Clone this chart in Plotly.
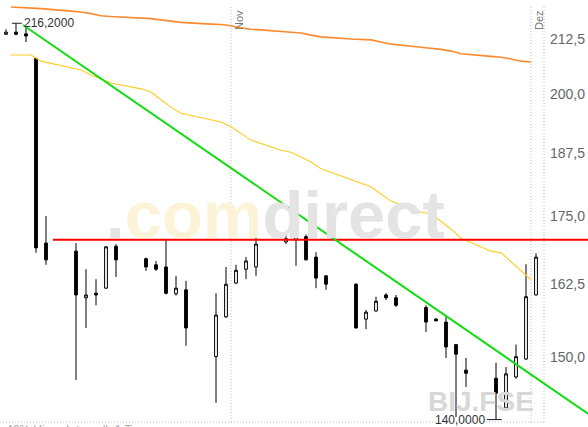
import math
import pandas as pd
import plotly.graph_objects as go

# ---------------- data ----------------
dates = ["2023-10-09", "2023-10-10", "2023-10-11", "2023-10-12", "2023-10-13",
         "2023-10-16", "2023-10-17", "2023-10-18", "2023-10-19", "2023-10-20",
         "2023-10-23", "2023-10-24", "2023-10-25", "2023-10-26", "2023-10-27",
         "2023-10-30", "2023-10-31", "2023-11-01", "2023-11-02", "2023-11-03",
         "2023-11-06", "2023-11-07", "2023-11-08", "2023-11-09", "2023-11-10",
         "2023-11-13", "2023-11-14", "2023-11-15", "2023-11-16", "2023-11-17",
         "2023-11-20", "2023-11-21", "2023-11-22", "2023-11-23", "2023-11-24",
         "2023-11-27", "2023-11-28", "2023-11-29", "2023-11-30", "2023-12-01"]
opens = [213.6, 214.1, 213.7, 208.0, 169.9,
         168.4, 160.0, 160.8, 161.7, 169.3,
         167.0, 165.9, 165.5, 160.7, 161.4,
         150.0, 156.7, 162.6, 165.1, 165.5,
         170.1, 170.5, 171.1, 167.3, 163.9,
         162.4, 156.3, 157.7, 160.5, 160.0,
         158.3, 156.3, 155.8, 152.0, 147.8,
         146.5, 141.8, 146.7, 149.6, 160.5]
highs = [214.8, 216.2, 215.3, 208.2, 175.0,
         169.9, 165.1, 163.3, 169.3, 169.7,
         167.2, 166.6, 170.5, 163.9, 163.0,
         160.8, 165.5, 165.9, 167.3, 172.9,
         172.0, 172.4, 171.5, 168.2, 164.0,
         162.6, 157.9, 160.2, 160.8, 160.5,
         158.7, 156.5, 156.7, 152.1, 149.8,
         149.0, 148.3, 152.0, 166.0, 168.0]
lows = [213.5, 213.4, 211.8, 168.1, 165.9,
        146.2, 154.8, 158.7, 161.6, 163.7,
        164.8, 164.8, 160.6, 160.4, 151.8,
        142.6, 156.5, 162.5, 163.3, 163.9,
        169.7, 165.7, 166.7, 161.7, 161.4,
        154.7, 154.6, 157.6, 159.6, 158.4,
        154.1, 156.0, 149.8, 140.4, 145.1,
        140.0, 141.7, 146.4, 149.5, 160.4]
closes = [214.1, 213.6, 213.2, 169.0, 166.8,
          160.5, 160.5, 160.5, 169.2, 166.8,
          165.5, 165.1, 160.8, 161.7, 154.8,
          157.0, 162.4, 164.9, 166.6, 169.7,
          170.7, 171.1, 166.8, 163.5, 162.4,
          154.8, 157.5, 159.4, 160.0, 158.7,
          155.8, 156.0, 151.6, 150.4, 147.3,
          144.1, 147.2, 150.0, 160.2, 167.3]

ma_dates = dates[1:]
ma_short = [208.8, 208.8, 208.8, 207.4, 205.9, 205.4, 204.3, 203.4, 202.5, 201.2,
            200.5, 198.8, 197.2, 195.9, 194.4, 194.0, 193.0, 191.5, 190.2, 188.1,
            187.7, 186.7, 185.7, 184.3, 182.1, 181.5, 180.7, 179.3, 177.9, 175.8,
            175.4, 174.0, 172.5, 170.8, 168.4, 168.1, 166.4, 164.8, 163.2]
ma_long = [220.1, 220.0, 219.9, 219.7, 219.1, 218.9, 218.5, 218.0, 217.8, 217.5,
           217.3, 217.0, 216.7, 216.4, 216.0, 215.9, 215.6, 215.1, 214.8, 214.3,
           214.1, 213.9, 213.4, 213.0, 212.5, 212.4, 212.3, 211.8, 211.3, 210.6,
           210.4, 210.1, 209.7, 209.1, 208.5, 208.3, 207.9, 207.4, 207.2]

trend_x = ["2023-10-11 04:48", "2023-12-06 16:48"]
trend_y = [215.8, 140.9]
resist_x = ["2023-10-14 04:48", "2023-12-06 16:48"]
resist_y = [170.5, 170.5]

hi_date, hi_val = "2023-10-10", 216.2
lo_date, lo_val = "2023-11-27", 140.0

tick_vals = [150.0, 162.5, 175.0, 187.5, 200.0, 212.5]
month_ticks = ["2023-11-01", "2023-12-01"]
month_labels = ["Nov", "Dez"]

# ---------------- figure ----------------
W, H = 588, 427
candle_x = [pd.Timestamp(d) + pd.Timedelta(hours=12) for d in dates]

fig = go.Figure()

fig.add_trace(go.Candlestick(
    x=candle_x, open=opens, high=highs, low=lows, close=closes,
    increasing=dict(fillcolor="white", line=dict(color="black", width=1)),
    decreasing=dict(fillcolor="black", line=dict(color="black", width=1)),
    whiskerwidth=0, hoverinfo="skip", showlegend=False))

fig.add_trace(go.Scatter(x=ma_dates, y=ma_long, mode="lines",
                         line=dict(color="#fb8a2e", width=1.6), hoverinfo="skip"))
fig.add_trace(go.Scatter(x=ma_dates, y=ma_short, mode="lines",
                         line=dict(color="#ffcc22", width=1.1), hoverinfo="skip"))
fig.add_trace(go.Scatter(x=resist_x, y=resist_y, mode="lines",
                         line=dict(color="#ff0000", width=2), hoverinfo="skip"))
fig.add_trace(go.Scatter(x=trend_x, y=trend_y, mode="lines",
                         line=dict(color="#11dd11", width=2), hoverinfo="skip"))

# high / low markers
hi_t = pd.Timestamp(hi_date) + pd.Timedelta(hours=12)
lo_t = pd.Timestamp(lo_date) + pd.Timedelta(hours=12)
fig.add_trace(go.Scatter(x=[hi_t - pd.Timedelta(hours=10), hi_t + pd.Timedelta(hours=14)],
                         y=[hi_val, hi_val], mode="lines",
                         line=dict(color="#222", width=1), hoverinfo="skip"))
fig.add_trace(go.Scatter(x=[lo_t - pd.Timedelta(hours=22), lo_t + pd.Timedelta(hours=14)],
                         y=[lo_val, lo_val], mode="lines",
                         line=dict(color="#222", width=1), hoverinfo="skip"))

def fmt4(v):
    return f"{v:.4f}".replace(".", ",")

annotations = [
    dict(x=hi_t + pd.Timedelta(hours=16), y=math.log10(hi_val), xref="x", yref="y",
         text=fmt4(hi_val), showarrow=False, xanchor="left", yanchor="middle",
         font=dict(size=12, color="#333"), borderpad=0),
    dict(x=lo_t - pd.Timedelta(hours=23), y=math.log10(lo_val), xref="x", yref="y",
         text=fmt4(lo_val), showarrow=False, xanchor="right", yanchor="middle",
         font=dict(size=12, color="#333"), borderpad=0),
]
for t, lab in zip(month_ticks, month_labels):
    annotations.append(dict(x=t, y=1 - 9 / H, xref="x", yref="paper", text=lab,
                            showarrow=False, textangle=-90, xanchor="left", yanchor="top",
                            xshift=1, font=dict(size=11, color="#777"), borderpad=0))

# watermarks
annotations.append(dict(
    x=105 / W, y=1 - 214 / H, xref="paper", yref="paper", xanchor="left", yanchor="middle",
    text='<span style="color:#e4e4e4">.</span><span style="color:#fcf3d9">com</span>'
         '<span style="color:#e4e4e4">direct</span>',
    showarrow=False, borderpad=0,
    font=dict(size=67, family="Liberation Sans, Arial", weight="bold")))
annotations.append(dict(
    x=427 / W, y=1 - 401 / H, xref="paper", yref="paper", xanchor="left", yanchor="middle",
    text="BIJ.FSE", showarrow=False, borderpad=0,
    font=dict(size=28, color="#d8d8d8", family="Liberation Sans, Arial", weight="bold")))
# bottom info line (cut off by the page edge)
annotations.append(dict(x=5 / W, y=1 - 422 / H, xref="paper", yref="paper",
                        xanchor="left", yanchor="top", text="43% Hi", showarrow=False,
                        borderpad=0, font=dict(size=12, color="#aaa")))
annotations.append(dict(x=65 / W, y=1 - 422 / H, xref="paper", yref="paper",
                        xanchor="left", yanchor="top", text="Intervall: 1 Tag", showarrow=False,
                        borderpad=0, font=dict(size=12, color="#aaa")))

# grid / border shapes
gridline = dict(color="#bdbdc6", width=1, dash="1px,2px")
shapes = []
for v in tick_vals:
    shapes.append(dict(type="line", xref="paper", yref="y", x0=0, x1=544 / W,
                       y0=math.log10(v), y1=math.log10(v), line=gridline, layer="below"))
for t in month_ticks:
    shapes.append(dict(type="line", xref="x", yref="paper", x0=t, x1=t,
                       y0=5 / H, y1=1 - 7 / H, line=gridline, layer="below"))
shapes.append(dict(type="line", xref="paper", yref="paper", x0=544 / W, x1=544 / W,
                   y0=5 / H, y1=1 - 6 / H, line=gridline, layer="below"))
shapes.append(dict(type="line", xref="paper", yref="paper", x0=0, x1=544 / W,
                   y0=5 / H, y1=5 / H, line=gridline, layer="below"))

fig.update_layout(
    width=W, height=H, margin=dict(l=0, r=0, t=0, b=0),
    paper_bgcolor="white", plot_bgcolor="white", showlegend=False,
    boxgap=0.6, separators=",.",
    font=dict(family="Liberation Sans, Arial, sans-serif"),
    annotations=annotations, shapes=shapes,
    xaxis=dict(type="date", range=["2023-10-08 21:36", "2023-12-06 16:48"],
               showgrid=False, zeroline=False, showticklabels=False, showline=False,
               rangeslider=dict(visible=False), ticks=""),
    yaxis=dict(type="log", range=[2.14260, 2.34593], side="right",
               ticklabelposition="inside", tickvals=tick_vals, tickformat=".1f",
               showgrid=False, zeroline=False, showline=False, ticks="",
               tickfont=dict(size=14, color="#666")),
)

fig.write_html("out.html", config={"displayModeBar": False},
               post_script="document.body.style.margin='0px';document.body.style.padding='0px';")
